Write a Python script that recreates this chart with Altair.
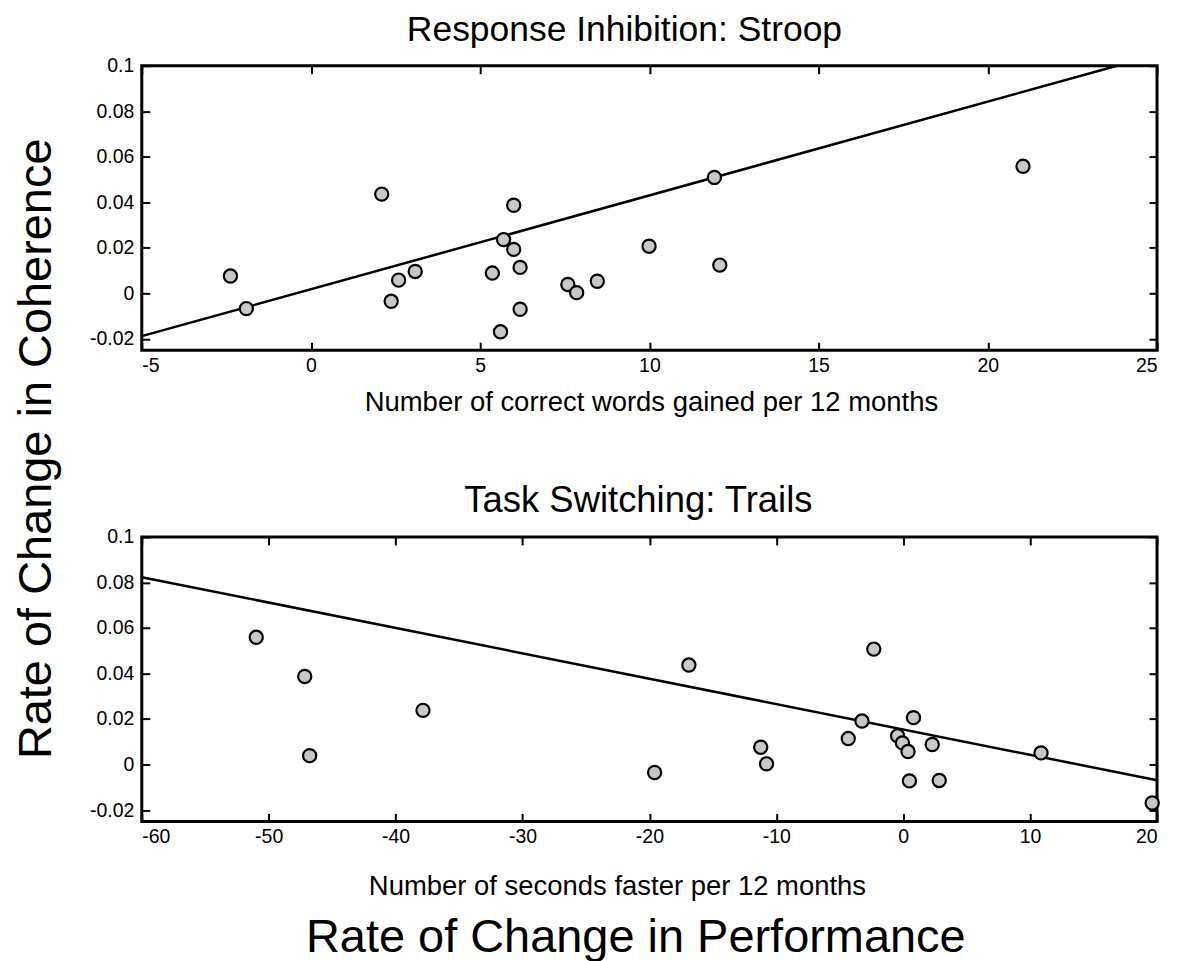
import altair as alt
import pandas as pd

FONT = "Liberation Sans, Arial, Helvetica, sans-serif"

# Shared coherence values (same subjects in both panels)
stroop_words = [-2.38, -1.91, 2.09, 2.37, 2.59, 3.08, 5.36, 5.60, 5.69, 5.99,
                5.99, 6.18, 6.18, 7.59, 7.85, 8.46, 9.99, 11.92, 12.08, 21.04]
stroop_coh = [0.0076, -0.0067, 0.0436, -0.0035, 0.0058, 0.0096, 0.0089, -0.0169, 0.0236, 0.0387,
              0.0193, 0.0114, -0.0070, 0.0039, 0.0003, 0.0053, 0.0207, 0.0509, 0.0124, 0.0558]

trails_sec = [-50.98, -47.16, -46.77, -37.84, -19.59, -16.89, -11.23, -10.77, -4.33, -3.25,
              -2.32, -0.44, -0.06, 0.38, 0.49, 0.81, 2.29, 2.84, 10.86, 19.62]
trails_coh = [0.0559, 0.0387, 0.0039, 0.0238, -0.0035, 0.0437, 0.0076, 0.0003, 0.0114, 0.0191,
              0.0507, 0.0126, 0.0095, 0.0057, -0.0072, 0.0206, 0.0088, -0.0070, 0.0051, -0.0169]

# fitted lines (end points)
stroop_fit_x = [-5.0, 23.82]
stroop_fit_y = [-0.0188, 0.1]
trails_fit_x = [-60.0, 20.0]
trails_fit_y = [0.0823, -0.0069]

y_ticks = [-0.02, 0, 0.02, 0.04, 0.06, 0.08, 0.1]
stroop_xticks = [-5, 0, 5, 10, 15, 20, 25]
trails_xticks = [-60, -50, -40, -30, -20, -10, 0, 10, 20]

W, H = 1017, 285
TICK = 8
LBL = "toString(datum.value)"


def panel(xs, ys, fx, fy, xdom, xticks, title, title_dx, title_size,
          xtitle, title_pad, xtitle_x):
    pts = pd.DataFrame({"x": xs, "y": ys})
    fit = pd.DataFrame({"x": fx, "y": fy})
    xscale = alt.Scale(domain=xdom, nice=False, zero=False)
    yscale = alt.Scale(domain=[-0.025, 0.1], nice=False, zero=False)

    tick_axis = dict(labels=False, domain=False, ticks=True, tickSize=TICK,
                     tickWidth=2, tickColor="black", grid=False, title=None,
                     offset=-TICK)

    line = alt.Chart(fit).mark_line(color="black", strokeWidth=2.5, clip=True).encode(
        x=alt.X("x:Q", scale=xscale,
                axis=alt.Axis(orient="bottom", values=xticks, **tick_axis)),
        y=alt.Y("y:Q", scale=yscale,
                axis=alt.Axis(orient="left", values=y_ticks, **tick_axis)),
    )
    ghost = alt.Chart(fit).mark_line(opacity=0).encode(
        x=alt.X("x:Q", scale=xscale,
                axis=alt.Axis(orient="top", values=xticks, **tick_axis)),
        y=alt.Y("y:Q", scale=yscale,
                axis=alt.Axis(orient="right", values=y_ticks, **tick_axis)),
    )
    dots = alt.Chart(pts).mark_point(
        shape="circle", filled=True, fill="#c8c8c8", stroke="black",
        strokeWidth=2.2, size=175, opacity=1
    ).encode(
        x=alt.X("x:Q", scale=xscale,
                axis=alt.Axis(orient="bottom", values=xticks, labelExpr=LBL,
                              ticks=False, tickSize=0, domain=False, grid=False,
                              labelPadding=6, title=xtitle, titlePadding=title_pad,
                              titleX=xtitle_x)),
        y=alt.Y("y:Q", scale=yscale,
                axis=alt.Axis(orient="left", values=y_ticks, labelExpr=LBL,
                              ticks=False, tickSize=0, domain=False, grid=False,
                              labelPadding=8, title=None)),
    )
    return alt.layer(line, ghost, dots).resolve_axis(
        x="independent", y="independent"
    ).properties(
        width=W, height=H,
        title=alt.TitleParams(title, fontSize=title_size, fontWeight="normal", font=FONT,
                              anchor="middle", offset=7, dx=title_dx, color="black"),
    )


top = panel(stroop_words, stroop_coh, stroop_fit_x, stroop_fit_y, [-5, 25],
            stroop_xticks, "Response Inhibition: Stroop", -25, 35.5,
            "Number of correct words gained per 12 months", 14, 510)
bottom = panel(trails_sec, trails_coh, trails_fit_x, trails_fit_y, [-60, 20],
               trails_xticks, "Task Switching: Trails", -11, 36.5,
               "Number of seconds faster per 12 months", 27, 476)

inner = alt.vconcat(top, bottom, spacing=64).properties(
    title=alt.TitleParams("Rate of Change in Coherence", orient="left",
                          fontSize=47, fontWeight="normal", font=FONT,
                          anchor="middle", offset=27, dx=8, color="black")
)

chart = alt.vconcat(inner).properties(
    background="white",
    padding={"left": 5, "top": 3, "right": 5, "bottom": 0},
    title=alt.TitleParams("Rate of Change in Performance", orient="bottom",
                          fontSize=47, fontWeight="normal", font=FONT,
                          anchor="middle", offset=13, dx=47, color="black")
).configure_view(
    stroke="black", strokeWidth=3
).configure_axis(
    labelFont=FONT, labelFontSize=19.5, labelColor="black",
    titleFont=FONT, titleFontSize=27.5, titleFontWeight="normal", titleColor="black",
)

chart.save("out.html", embed_options={"renderer": "svg", "actions": False})
